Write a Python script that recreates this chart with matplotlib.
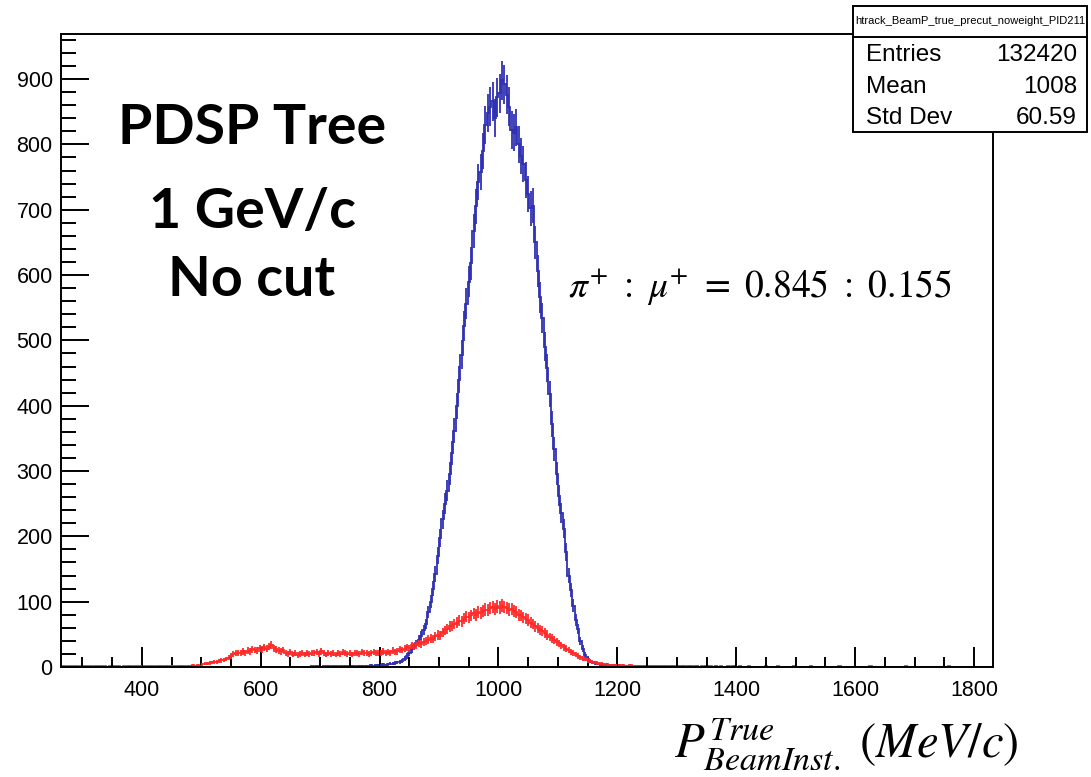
import numpy as np
import matplotlib
matplotlib.use("Agg")
import matplotlib.pyplot as plt
from matplotlib.ticker import MultipleLocator
from matplotlib.patches import Rectangle
from matplotlib.lines import Line2D

plt.rcParams['mathtext.fontset'] = 'stix'
plt.rcParams['font.family'] = ['Liberation Sans', 'DejaVu Sans']

# bin width of the drawn histograms [MeV/c]
bw = 4

# pi+ (PID211) : bin contents starting at blue_lo
blue_lo = 680
blue = [0, 1, 0, 1, 1, 0, 1, 1, 1, 0,
        1, 1, 0, 1, 1, 2, 1, 1, 2, 1,
        1, 2, 2, 1, 2, 2, 3, 2, 3, 3,
        3, 4, 3, 4, 5, 5, 6, 7, 8, 9,
        13, 17, 22, 27, 31, 36, 42, 48, 57, 66,
        84, 100, 120, 142, 170, 197, 226, 250, 270, 296,
        328, 362, 400, 440, 478, 522, 556, 590, 618, 668,
        705, 742, 758, 790, 830, 848, 858, 866, 840, 872,
        878, 898, 892, 876, 858, 822, 818, 826, 800, 782,
        770, 746, 724, 702, 706, 650, 606, 566, 534, 490,
        458, 418, 372, 334, 296, 262, 236, 212, 176, 140,
        118, 94, 72, 58, 40, 28, 18, 13, 9, 7,
        6, 5, 4, 4, 3, 3, 2, 3, 2, 2,
        3, 2, 1, 2, 2, 2, 1, 1, 2, 1,
        1, 2, 1, 1, 1, 1, 1, 0, 1, 1,
        1, 0, 1, 1, 0, 1, 0, 1, 0, 0,
        1, 0, 0, 1, 0, 0, 0, 1, 0, 0,
        0, 1, 0, 0, 0, 0, 0, 0, 0, 1]

# mu+ : bin contents starting at red_lo
red_lo = 264
red = [1, 1, 0, 1, 1, 1, 1, 0, 1, 1,
       1, 1, 1, 0, 1, 1, 1, 1, 1, 0,
       1, 1, 1, 1, 1, 0, 1, 1, 2, 1,
       1, 1, 1, 2, 1, 1, 1, 2, 1, 1,
       1, 2, 1, 1, 2, 1, 2, 2, 1, 2,
       2, 2, 1, 2, 2, 3, 2, 3, 2,
       4, 5, 5, 6, 7, 8, 8, 9, 10, 11, 12, 14, 17, 20, 21,
       22, 21, 24, 22, 25, 24, 27, 26, 25, 29,
       27, 30, 28, 31, 34, 29, 27, 25, 24, 26,
       22, 20, 23, 19, 21, 18, 20, 22, 19, 21,
       20, 22, 21, 23, 20, 24, 21, 19, 22, 20,
       21, 19, 22, 20, 23, 21, 20, 22, 19, 21,
       22, 20, 23, 21, 22, 20, 21, 23, 22, 21,
       22, 24, 21, 23, 22, 25, 23, 24, 27, 26,
       28, 30, 29, 33, 31, 34, 36, 35, 38, 40,
       42, 44, 43, 47, 49, 48, 53, 56, 58, 62,
       63, 66, 68, 71, 70, 74, 77, 76, 79, 82,
       80, 84, 83, 86, 88, 87, 90, 92, 89, 93,
       91, 94, 92, 90, 88, 89, 85, 84, 80, 79,
       76, 74, 72, 68, 66, 62, 60, 57, 55, 52,
       49, 46, 44, 41, 38, 36, 33, 30, 28, 26,
       23, 21, 19, 17, 15, 13, 12, 10, 9, 8,
       7, 6, 5, 5, 4, 4, 3, 3, 3, 3,
       3, 2, 3, 2, 2, 3, 2, 2, 2, 1,
       2, 2, 1, 2, 1, 1, 2, 1, 1, 1,
       1, 1, 1, 0, 1, 1, 1, 0, 1, 1,
       1, 0, 1, 1, 0, 1, 0, 1, 0, 1,
       0, 1, 0, 1, 0, 0, 1, 0, 1, 0,
       0, 1, 0, 0, 0, 1, 0, 0, 0, 0,
       0, 0, 1, 0, 0, 0, 0, 1, 0, 0,
       0, 0, 0, 0, 1, 0, 0, 0, 0, 0,
       0, 1, 0, 0, 0, 0, 0, 0, 0, 0,
       0, 0, 0, 1, 0, 0, 0, 0, 0, 0,
       0, 0, 0, 0, 0, 0, 1, 0, 0, 0,
       0, 0, 0, 0, 0, 0, 0, 0, 0, 0,
       0, 1, 0, 0, 0, 0, 0, 0, 0, 0,
       0, 0, 0, 0, 0, 0, 0, 0, 0, 1,
       0, 0, 0, 0, 0, 0, 0, 0, 0, 0,
       0, 0, 0, 0, 0, 0, 0, 0]

stat_title = "htrack_BeamP_true_precut_noweight_PID211"
stat_names = ["Entries", "Mean", "Std Dev"]
stat_values = ["132420", "1008", "60.59"]

xmin, xmax = 264, 1832
ymax = 969


def draw_hist(ax, lo, vals, color):
    v = np.array(vals, dtype=float)
    edges = lo + bw * np.arange(len(v) + 1)
    ax.stairs(v, edges, color=color, lw=1.3, baseline=None)
    c = 0.5 * (edges[:-1] + edges[1:])
    m = v > 0
    err = np.sqrt(v[m])
    ax.vlines(c[m], v[m] - err, v[m] + err, color=color, lw=1.3)


fig = plt.figure(figsize=(10.91, 7.77), dpi=100)
ax = fig.add_axes([61/1091, 1 - 667/777, 932/1091, 633/777])

draw_hist(ax, blue_lo, blue, '#3030b4')
draw_hist(ax, red_lo, red, '#ff2a2a')

ax.set_xlim(xmin, xmax)
ax.set_ylim(0, ymax)
ax.xaxis.set_major_locator(MultipleLocator(200))
ax.xaxis.set_minor_locator(MultipleLocator(50))
ax.yaxis.set_major_locator(MultipleLocator(100))
ax.yaxis.set_minor_locator(MultipleLocator(20))
ax.tick_params(axis='both', which='both', direction='in', width=1.4, labelsize=15.5)
ax.tick_params(axis='x', which='major', length=14.5, pad=9)
ax.tick_params(axis='x', which='minor', length=7.2)
ax.tick_params(axis='y', which='major', length=20, pad=6)
ax.tick_params(axis='y', which='minor', length=10.8)
for s in ax.spines.values():
    s.set_linewidth(1.4)

# annotations
big = dict(family=['Lato', 'DejaVu Sans'], fontweight='bold', fontsize=40,
           ha='center', va='center', transform=fig.transFigure)
fig.text(252/1091, 1 - 128/777, "PDSP Tree", **big)
fig.text(252/1091, 1 - 212/777, "1 GeV/c", **big)
fig.text(252/1091, 1 - 280/777, "No cut", **big)

fig.text(568/1091, 1 - 297/777,
         r"$\pi^{+}\ :\ \mu^{+}\ =\ 0.845\ :\ 0.155$",
         fontsize=27, ha='left', va='baseline')

fig.text(1018/1091, 1 - 758/777, r"$P^{True}_{BeamInst.}\ (MeV/c)$",
         fontsize=35, ha='right', va='baseline')

# stats box
bx0, bx1, by0, by1, ydiv = 853, 1087, 6, 132, 37
fig.patches.append(Rectangle((bx0/1091, 1 - by1/777), (bx1-bx0)/1091, (by1-by0)/777,
                             transform=fig.transFigure, facecolor='white',
                             edgecolor='black', lw=1.4, zorder=5))
fig.lines.append(Line2D([bx0/1091, bx1/1091], [1 - ydiv/777, 1 - ydiv/777],
                        transform=fig.transFigure, color='black', lw=1.4, zorder=6))
fig.text((bx0+bx1)/2/1091, 1 - 21/777, stat_title, fontsize=8,
         ha='center', va='center', zorder=7)
row_y = [55, 87, 118]
for name, val, ry in zip(stat_names, stat_values, row_y):
    fig.text(866/1091, 1 - ry/777, name, fontsize=17.5, ha='left', va='center', zorder=7)
    fig.text(1077/1091, 1 - ry/777, val, fontsize=17.5, ha='right', va='center', zorder=7)

fig.savefig("out.png", dpi=100)
